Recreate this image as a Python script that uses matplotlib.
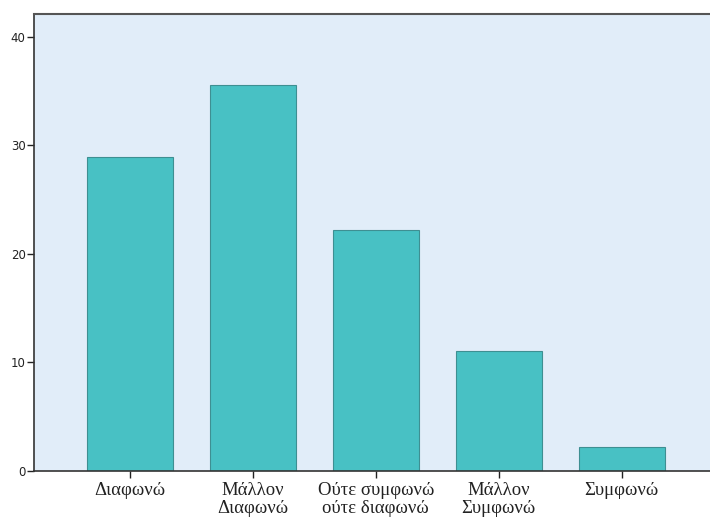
import matplotlib.pyplot as plt
import numpy as np

# percentages per answer category
categories = ['Διαφωνώ', 'Μάλλον\nΔιαφωνώ', 'Ούτε συμφωνώ\nούτε διαφωνώ', 'Μάλλον\nΣυμφωνώ', 'Συμφωνώ']
percent = [28.9, 35.6, 22.2, 11.1, 2.2]
yticks = [0, 10, 20, 30, 40]

fig = plt.figure(figsize=(7.1, 5.21), dpi=100)
ax = fig.add_axes([0.048, 0.096, 0.952, 0.877])
ax.set_facecolor('#E1EDF9')

x = np.arange(len(categories))
ax.bar(x, percent, width=0.7, color='#48C1C4', edgecolor='#3E8F92', linewidth=0.8)

ax.set_xlim(-0.78, 4.72)
ax.set_ylim(0, 42.1)
ax.set_yticks(yticks)
ax.set_xticks(x)
ax.set_xticklabels(categories, family='Liberation Serif', fontsize=13.5, linespacing=1.05)
ax.tick_params(axis='y', labelsize=8.5, length=5, width=1, colors='#222222', pad=1)
ax.tick_params(axis='x', length=5, width=1, colors='#222222', pad=3)

for s in ['left', 'bottom']:
    ax.spines[s].set_color('#333333')
    ax.spines[s].set_linewidth(1.2)
ax.spines['top'].set_color('#555555')
ax.spines['top'].set_linewidth(1.5)
ax.spines['right'].set_visible(False)

fig.savefig('out.png', dpi=100)
